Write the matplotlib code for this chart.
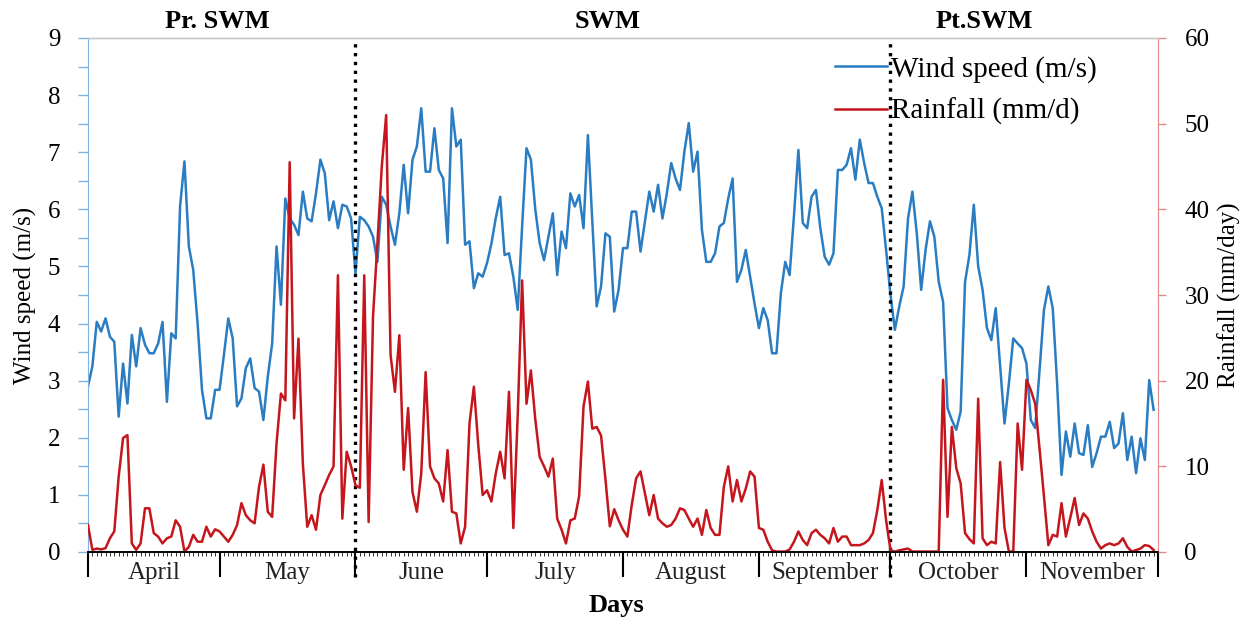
import numpy as np
import matplotlib
matplotlib.use("Agg")
import matplotlib.pyplot as plt
from matplotlib.ticker import MultipleLocator, NullFormatter, FixedLocator

plt.rcParams['font.family'] = ['Liberation Serif', 'DejaVu Serif']

# daily values, 1 April - 30 November
wind_speed = [
    2.90, 3.25, 4.03, 3.86, 4.09, 3.77, 3.68, 2.37, 3.30, 2.60,
    3.80, 3.25, 3.92, 3.63, 3.48, 3.48, 3.65, 4.03, 2.63, 3.83,
    3.74, 6.05, 6.84, 5.35, 4.94, 4.00, 2.84, 2.34, 2.34, 2.84,
    2.84, 3.45, 4.09, 3.74, 2.55, 2.69, 3.22, 3.39, 2.87, 2.81,
    2.31, 3.07, 3.65, 5.35, 4.33, 6.19, 5.84, 5.73, 5.55, 6.31,
    5.84, 5.79, 6.28, 6.87, 6.63, 5.81, 6.14, 5.67, 6.08, 6.05,
    5.84, 4.88, 5.87, 5.81, 5.70, 5.52, 5.08, 6.22, 6.08, 5.70,
    5.38, 5.93, 6.78, 5.93, 6.87, 7.10, 7.77, 6.66, 6.66, 7.42,
    6.69, 6.54, 5.41, 7.77, 7.10, 7.22, 5.38, 5.44, 4.62, 4.88,
    4.82, 5.06, 5.40, 5.85, 6.22, 5.20, 5.23, 4.82, 4.24, 5.70,
    7.07, 6.87, 6.00, 5.41, 5.11, 5.52, 5.93, 4.85, 5.61, 5.32,
    6.28, 6.05, 6.25, 5.67, 7.30, 5.80, 4.30, 4.65, 5.58, 5.52,
    4.21, 4.59, 5.32, 5.32, 5.96, 5.96, 5.26, 5.79, 6.31, 5.96,
    6.43, 5.84, 6.28, 6.81, 6.54, 6.34, 7.01, 7.51, 6.66, 7.01,
    5.64, 5.08, 5.08, 5.23, 5.70, 5.76, 6.19, 6.54, 4.73, 4.94,
    5.29, 4.82, 4.35, 3.92, 4.27, 4.06, 3.48, 3.48, 4.53, 5.08,
    4.85, 5.90, 7.04, 5.76, 5.67, 6.22, 6.34, 5.67, 5.17, 5.03,
    5.23, 6.69, 6.69, 6.78, 7.07, 6.52, 7.22, 6.81, 6.46, 6.46,
    6.22, 6.02, 5.29, 4.50, 3.89, 4.30, 4.65, 5.84, 6.31, 5.58,
    4.59, 5.29, 5.79, 5.52, 4.73, 4.38, 2.52, 2.31, 2.14, 2.46,
    4.73, 5.20, 6.08, 5.00, 4.59, 3.92, 3.71, 4.27, 3.25, 2.25,
    2.95, 3.74, 3.65, 3.57, 3.30, 2.31, 2.17, 3.19, 4.24, 4.65,
    4.27, 2.95, 1.35, 2.11, 1.67, 2.25, 1.73, 1.70, 2.22, 1.49,
    1.73, 2.02, 2.02, 2.28, 1.82, 1.90, 2.43, 1.61, 2.02, 1.38,
    1.99, 1.61, 3.01, 2.49,
]

rainfall = [
    3.15, 0.25, 0.40, 0.30, 0.45, 1.60, 2.40, 8.80, 13.30, 13.65,
    1.00, 0.25, 1.00, 5.10, 5.10, 2.20, 1.80, 1.00, 1.60, 1.80,
    3.70, 2.95, 0.05, 0.60, 2.00, 1.20, 1.20, 2.95, 1.80, 2.65,
    2.40, 1.80, 1.20, 2.00, 3.15, 5.70, 4.30, 3.70, 3.35, 7.60,
    10.20, 4.70, 4.10, 12.70, 18.50, 17.70, 45.50, 15.60, 24.90, 10.30,
    2.95, 4.30, 2.60, 6.65, 7.80, 9.00, 10.00, 32.30, 3.90, 11.70,
    10.00, 7.80, 7.50, 32.30, 3.50, 27.50, 36.00, 45.00, 51.00, 23.00,
    18.70, 25.30, 9.60, 16.80, 7.00, 4.70, 9.20, 21.00, 10.00, 8.60,
    8.00, 5.90, 11.90, 4.70, 4.50, 1.00, 2.95, 15.00, 19.30, 12.50,
    6.65, 7.20, 5.90, 9.20, 11.70, 8.60, 18.70, 2.80, 16.00, 31.70,
    17.30, 21.20, 15.50, 11.10, 10.00, 8.80, 10.90, 3.90, 2.60, 1.00,
    3.70, 3.90, 6.50, 17.00, 19.90, 14.40, 14.60, 13.60, 8.50, 3.00,
    5.00, 3.70, 2.60, 1.80, 5.50, 8.60, 9.40, 6.85, 4.30, 6.65,
    3.90, 3.35, 2.95, 3.15, 3.90, 5.10, 4.90, 3.90, 2.95, 3.90,
    2.00, 4.90, 2.80, 2.00, 2.00, 7.60, 10.00, 5.90, 8.40, 5.90,
    7.40, 9.40, 8.80, 2.80, 2.60, 1.20, 0.20, 0.05, 0.05, 0.05,
    0.30, 1.20, 2.40, 1.40, 0.80, 2.20, 2.60, 2.00, 1.60, 1.00,
    2.80, 1.20, 1.80, 1.80, 0.80, 0.80, 0.80, 1.00, 1.40, 2.20,
    4.90, 8.40, 3.70, 0.20, 0.05, 0.20, 0.30, 0.40, 0.05, 0.05,
    0.05, 0.05, 0.05, 0.05, 0.05, 20.10, 4.10, 14.60, 9.80, 8.00,
    2.20, 1.50, 1.00, 17.90, 1.60, 0.80, 1.20, 1.00, 10.50, 2.80,
    0.05, 0.05, 15.00, 9.60, 20.10, 18.90, 17.30, 12.00, 6.50, 0.80,
    2.00, 1.80, 5.70, 1.80, 4.00, 6.30, 3.15, 4.50, 3.90, 2.40,
    1.20, 0.40, 0.80, 1.00, 0.80, 1.00, 1.60, 0.60, 0.05, 0.23,
    0.40, 0.80, 0.70, 0.23,
]

months = ['April', 'May', 'June', 'July', 'August', 'September', 'October', 'November']
month_days = [30, 31, 30, 31, 31, 30, 31, 30]
seasons = ['Pr. SWM', 'SWM', 'Pt.SWM']
season_breaks = [61, 183]  # 1 June, 1 October

days = np.arange(len(wind_speed))
edges = np.concatenate([[0], np.cumsum(month_days)])

blue = '#2a7dc2'
red = '#c4161c'

fig = plt.figure(figsize=(12.55, 6.25), dpi=100)
ax = fig.add_axes([0.0701, 0.1168, 0.8526, 0.8224])
ax2 = ax.twinx()

l1, = ax.plot(days, wind_speed, color=blue, lw=1.8, label='Wind speed (m/s)')
l2, = ax2.plot(days, rainfall, color=red, lw=1.8, label='Rainfall (mm/d)')

ax.set_xlim(0, edges[-1])
ax.set_ylim(0, 9)
ax2.set_ylim(0, 60)

# y axes
ax.yaxis.set_major_locator(MultipleLocator(1))
ax.yaxis.set_minor_locator(MultipleLocator(0.5))
ax.tick_params(axis='y', which='both', direction='out', length=7, width=1,
               color='#7fb2e0', labelsize=18, pad=13)
ax2.yaxis.set_major_locator(MultipleLocator(10))
ax2.tick_params(axis='y', which='major', direction='out', length=6, width=1,
                color='#e08a8a', labelsize=18, pad=13)

# x axis: month boundaries and daily minor ticks
ax.xaxis.set_major_locator(FixedLocator(edges))
ax.xaxis.set_minor_locator(MultipleLocator(1))
ax.xaxis.set_major_formatter(NullFormatter())
ax.tick_params(axis='x', which='major', direction='out', length=18, width=1.5, color='black')
ax.tick_params(axis='x', which='minor', direction='out', length=3, width=0.7, color='#333333')

for i, m in enumerate(months):
    ax.text((edges[i] + edges[i + 1]) / 2, -0.0525, m, transform=ax.get_xaxis_transform(),
            ha='center', va='baseline', fontsize=18, color='#222222')

ax.text(0.494, -0.1167, 'Days', transform=ax.transAxes, ha='center', va='baseline',
        fontsize=19, fontweight='bold')

for s, xpos in zip(seasons, [0.1206, 0.4860, 0.8374]):
    ax.text(xpos, 1.0195, s, transform=ax.transAxes, ha='center', va='baseline',
            fontsize=19, fontweight='bold')

for b in season_breaks:
    ax.axvline(b, ymin=-0.049, ymax=1, color='black', ls=':', lw=2.4, clip_on=False, zorder=5)

ax.set_ylabel('Wind speed (m/s)', fontsize=18)
ax.yaxis.set_label_coords(-0.0477, 0.5)
ax2.set_ylabel('Rainfall (mm/day)', fontsize=18)
ax2.yaxis.set_label_coords(1.056, 0.5)

# spines
for a in (ax, ax2):
    a.spines['top'].set_color('#c8c8c8')
    a.spines['top'].set_linewidth(1)
    a.spines['bottom'].set_color('black')
    a.spines['bottom'].set_linewidth(1.2)
ax.spines['left'].set_color('#7fb2e0')
ax.spines['right'].set_visible(False)
ax2.spines['left'].set_visible(False)
ax2.spines['right'].set_color('#e08a8a')

ax2.legend(handles=[l1, l2], loc='upper left', bbox_to_anchor=(0.698, 0.965),
           frameon=False, fontsize=21, handlelength=1.8, handletextpad=0.12,
           labelspacing=0.52, borderpad=0, borderaxespad=0)

fig.savefig('out.png', dpi=100)
